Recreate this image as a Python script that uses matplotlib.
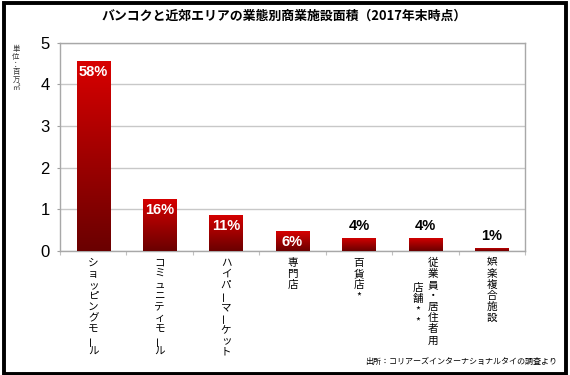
import numpy as np
import matplotlib
matplotlib.use("Agg")
from matplotlib import pyplot as plt
from matplotlib.colors import LinearSegmentedColormap
from matplotlib.patches import Rectangle

plt.rcParams['font.family'] = ['Noto Sans CJK JP', 'DejaVu Sans']

# データ（単位：百万㎡）
categories = ["ショッピングモール", "コミュニティモール", "ハイパーマーケット", "専門店",
              "百貨店*", "従業員・居住者用店舗**", "娯楽複合施設"]
# 縦書きの列（右の列から）
label_columns = [["ショッピングモール"], ["コミュニティモール"], ["ハイパーマーケット"],
                 ["専門店"], ["百貨店*"], ["従業員・居住者用", "店舗**"], ["娯楽複合施設"]]
areas = [4.56, 1.25, 0.87, 0.47, 0.32, 0.32, 0.08]
shares = ["58%", "16%", "11%", "6%", "4%", "4%", "1%"]
inside = [True, True, True, True, False, False, False]
yticks = [0, 1, 2, 3, 4, 5]

title = "バンコクと近郊エリアの業態別商業施設面積（2017年末時点）"
unit = "単位：百万㎡"
source = "出所：コリアーズインターナショナルタイの調査より"

fig = plt.figure(figsize=(5.7, 3.75), dpi=100)
ax = fig.add_axes([0.1053, 0.331, 0.8157, 0.555])

x = np.arange(len(areas))
bars = ax.bar(x, areas, width=0.5, color="#b00000", edgecolor="none", zorder=2)

# 縦方向のグラデーション
cmap = LinearSegmentedColormap.from_list("redgrad", ["#6a0000", "#a00000", "#d80000"])
grad = np.linspace(0, 1, 256).reshape(-1, 1)
for b in bars:
    bx, by = b.get_x(), b.get_y()
    im = ax.imshow(grad, cmap=cmap, origin="lower", aspect="auto",
                   extent=[bx, bx + b.get_width(), by, by + b.get_height()], zorder=3)
    im.set_clip_path(b)

ax.set_xlim(-0.5, len(areas) - 0.5)
ax.set_ylim(0, 5)
ax.set_yticks(yticks)
ax.set_yticklabels([str(t) for t in yticks], family="Liberation Sans", fontsize=12)
ax.yaxis.grid(True, color="#c8c8c8", lw=1)
ax.set_axisbelow(True)
ax.set_xticks(np.arange(len(areas) + 1) - 0.5)
ax.set_xticklabels([])
ax.tick_params(axis="y", length=2.5, width=0.8, color="#a0a0a0", pad=5)
ax.tick_params(axis="x", length=3, width=0.8, color="#c0c0c0")
for s in ax.spines.values():
    s.set_color("#a8a8a8")
    s.set_linewidth(1)

# 割合ラベル
for xi, h, s, ins in zip(x, areas, shares, inside):
    if ins:
        ax.annotate(s, (xi, h), xytext=(0, -8), textcoords="offset points",
                    ha="center", va="center", color="white", fontweight="bold",
                    family="Liberation Sans", fontsize=10.5, zorder=4)
    else:
        ax.annotate(s, (xi, h), xytext=(0, 8), textcoords="offset points",
                    ha="center", va="center", color="black", fontweight="bold",
                    family="Liberation Sans", fontsize=10.5, zorder=4)

# 縦書きのカテゴリ名
fs = 7.6
pitch = 8.0
col_start = {0: 0.0, 1: 2.3}
for xi, cols in zip(x, label_columns):
    n = len(cols)
    for ci, col in enumerate(cols):
        dx = 0 if n == 1 else (5.6 if ci == 0 else -5.6)
        start = 8.5 + col_start[ci] * pitch
        for k, ch in enumerate(col):
            rot = 90 if ch == "ー" else 0
            ax.annotate(ch, (xi, 0), xycoords=("data", "axes fraction"),
                        xytext=(dx, -(start + k * pitch)), textcoords="offset points",
                        ha="center", va="center", fontsize=fs, rotation=rot,
                        annotation_clip=False)

# 単位（縦書き）
for k, ch in enumerate(unit):
    fig.text(16 / 570, 1 - (49 + k * 7.8) / 375, ch, ha="center", va="center",
             fontsize=5.3, color="#333333")

fig.text(0.498, 0.957, title, ha="center", va="center", fontsize=9.3, fontweight="bold")
fig.text(0.977, 0.035, source, ha="right", va="center", fontsize=5.8)

# 外枠
fig.patches.append(Rectangle((3.5 / 570, 1.5 / 375), 562 / 570, 370.5 / 375,
                             transform=fig.transFigure, fill=False, ec="black", lw=2.8))

fig.savefig("out.png", dpi=100)
